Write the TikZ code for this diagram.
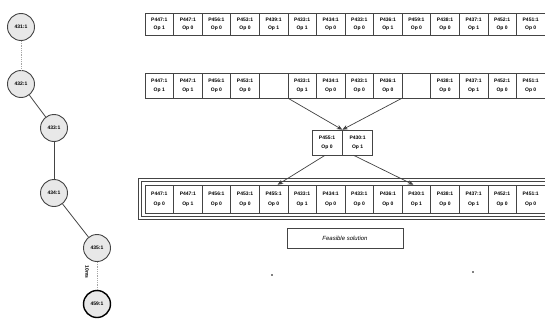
\documentclass[tikz,border=0pt]{standalone}
\usepackage{fontspec}
\setmainfont{Liberation Sans}
\usetikzlibrary{arrows.meta,fit}
\definecolor{edge}{HTML}{444444}
\tikzset{
  cell/.style={draw=edge, line width=0.6pt, rectangle, minimum width=28.57pt, inner sep=0pt,
    align=center, font=\fontsize{5}{7}\selectfont\bfseries},
  op/.style={circle, draw=edge, line width=0.9pt, fill=gray!18, minimum size=27pt, inner sep=0pt,
    font=\fontsize{5}{6}\selectfont\bfseries},
  link/.style={draw=edge, line width=0.8pt},
  weak/.style={draw=gray!70, line width=0.8pt, densely dotted},
  move/.style={draw=black!75, line width=0.7pt, -{Stealth[length=5.5pt,width=4.5pt]}},
}
\begin{document}
\begin{tikzpicture}[x=1pt,y=-1pt]
\useasboundingbox (0,0) rectangle (545,321);

% operation chain on the left
\node[op] (c1) at (21,27) {431:1};
\node[op] (c2) at (21,84) {432:1};
\node[op] (c3) at (54,128) {433:1};
\node[op] (c4) at (54,193) {434:1};
\node[op] (c5) at (97,248) {435:1};
\node[op, draw=black, line width=1.4pt] (c6) at (97,304) {459:1};
\draw[weak] (c1) -- (c2);
\draw[link] (c2) -- (c3);
\draw[link] (c3) -- (c4);
\draw[link] (c4) -- (c5);
\draw[weak] (c5) -- (c6);
\node[rotate=-90, font=\fontsize{5}{6}\selectfont\bfseries, inner sep=0pt] (dt) at (87,272) {10ms};

% first row: current solution
\foreach \i/\p/\o in {1/P447:1/Op 1, 2/P447:1/Op 0, 3/P456:1/Op 0, 4/P453:1/Op 0,
  5/P439:1/Op 1, 6/P433:1/Op 1, 7/P434:1/Op 0, 8/P433:1/Op 0, 9/P436:1/Op 1,
  10/P459:1/Op 0, 11/P438:1/Op 0, 12/P437:1/Op 1, 13/P452:1/Op 0, 14/P451:1/Op 0}
  \node[cell, minimum height=22pt] (t\i) at ({145+(\i-0.5)*28.57},24) {\p\\[1pt]\o};

% second row: two operations removed
\foreach \i/\p/\o in {1/P447:1/Op 1, 2/P447:1/Op 1, 3/P456:1/Op 0, 4/P453:1/Op 0,
  5//, 6/P433:1/Op 1, 7/P434:1/Op 0, 8/P433:1/Op 0, 9/P436:1/Op 0,
  10//, 11/P438:1/Op 0, 12/P437:1/Op 1, 13/P452:1/Op 0, 14/P451:1/Op 0}
  \node[cell, minimum height=25pt] (s\i) at ({145+(\i-0.5)*28.57},85.5) {\p\\[2pt]\o};

% removed operations
\node[cell, minimum width=30pt, minimum height=25pt] (m1) at (327,142.5) {P455:1\\[2pt]Op 0};
\node[cell, minimum width=30pt, minimum height=25pt, anchor=west] (m2) at (m1.east) {P430:1\\[2pt]Op 1};

% third row: repaired solution
\foreach \i/\p/\o in {1/P447:1/Op 0, 2/P447:1/Op 1, 3/P456:1/Op 0, 4/P453:1/Op 0,
  5/P455:1/Op 0, 6/P433:1/Op 1, 7/P434:1/Op 0, 8/P433:1/Op 0, 9/P436:1/Op 0,
  10/P430:1/Op 1, 11/P438:1/Op 0, 12/P437:1/Op 1, 13/P452:1/Op 0, 14/P451:1/Op 0}
  \node[cell, minimum height=28pt] (b\i) at ({145+(\i-0.5)*28.57},199) {\p\\[3pt]\o};
\node[draw=edge, line width=1pt, double=white, double distance=1.5pt, inner sep=4.5pt,
  fit=(b1)(b14)] (frame) {};

% moves between rows
\draw[move] (s5.south east) -- (m1.north east);
\draw[move] (s10.south west) -- (m1.north east);
\draw[move] ([xshift=-2pt]m1.south) -- ([xshift=4pt]b5.north);
\draw[move] ([xshift=-4pt]m2.south) -- ([xshift=-3pt]b10.north);

% caption box
\node[draw=edge, line width=0.7pt, minimum width=116pt, minimum height=20pt,
  font=\fontsize{6}{7}\selectfont\itshape] (cap) at (345,238) {Feasible solution};

% small marks
\fill (272,275) circle (0.9pt);
\fill (473,272) circle (0.9pt);
\end{tikzpicture}
\end{document}
